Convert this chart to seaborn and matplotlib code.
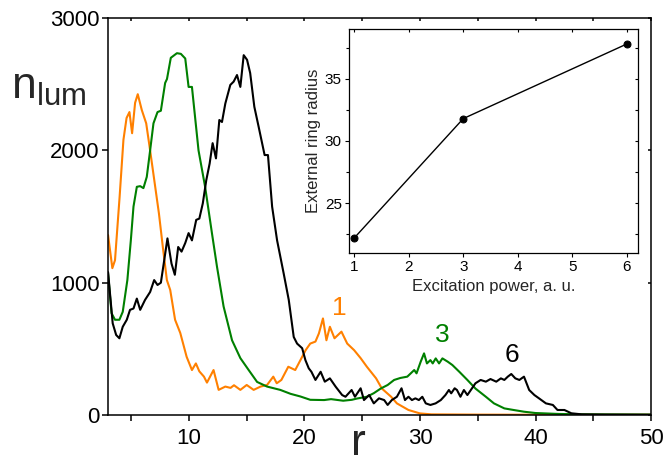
import numpy as np
import pandas as pd
import matplotlib
matplotlib.use("Agg")
import matplotlib.pyplot as plt
import seaborn as sns
from matplotlib.ticker import MultipleLocator

sns.set_style("ticks")
plt.rcParams['font.family'] = ['Liberation Sans', 'DejaVu Sans']
plt.rcParams['mathtext.default'] = 'regular'

# ---- data ----
r_orange = [3.0, 3.37, 3.6, 4.0, 4.33, 4.6, 4.85, 5.08, 5.34, 5.57, 5.92, 6.3, 6.64, 7.0, 7.4,
            7.74, 8.09, 8.38, 8.8, 9.25, 9.8, 10.26, 10.6, 10.9, 11.3, 11.56, 12.13, 12.57,
            13.15, 13.6, 13.9, 14.45, 15.0, 15.6, 16.2, 16.76, 17.3, 17.6, 18.0, 18.6, 19.2,
            19.65, 20.1, 20.5, 20.95, 21.25, 21.6, 21.9, 22.2, 22.6, 23.2, 23.7, 24.3, 24.86,
            25.4, 26.2, 26.7, 27.5, 28.0, 29.0, 30.0, 31.0, 35.0, 40.0, 45.0, 50.0]
n_orange = [1360, 1110, 1170, 1650, 2080, 2245, 2290, 2130, 2360, 2425, 2305, 2205, 2000, 1775, 1525,
            1270, 1020, 945, 720, 620, 440, 340, 390, 330, 290, 245, 340, 190,
            215, 205, 225, 190, 227, 190, 215, 227, 290, 240, 265, 365, 340,
            415, 490, 540, 555, 617, 730, 565, 667, 580, 630, 540, 490, 430,
            365, 277, 200, 138, 88, 38, 12, 5, 3, 2, 2, 2]

r_green = [3.0, 3.3, 3.6, 3.98, 4.27, 4.67, 4.97, 5.2, 5.49, 5.78, 6.06, 6.35, 6.64, 6.93, 7.28,
           7.57, 7.94, 8.1, 8.43, 8.96, 9.3, 9.68, 9.97, 10.26, 10.83, 11.4, 11.99, 12.43, 13.0,
           13.73, 14.45, 15.17, 15.9, 16.76, 17.9, 18.8, 19.65, 20.5, 21.7, 22.3, 23.35, 24.1,
           24.57, 25.4, 26.0, 26.6, 27.2, 27.76, 28.3, 28.9, 29.5, 29.7, 30.06, 30.35, 30.6,
           30.9, 31.1, 31.36, 31.65, 31.94, 32.4, 32.8, 33.4, 34.1, 34.8, 35.7, 36.4, 37.3,
           38.1, 39.0, 40.0, 42.0, 44.0, 50.0]
n_green = [1070, 770, 720, 720, 780, 1020, 1320, 1575, 1725, 1730, 1715, 1800, 2000, 2205, 2290,
           2300, 2510, 2540, 2700, 2735, 2730, 2695, 2480, 2480, 2000, 1725, 1375, 1120, 820,
           565, 430, 340, 250, 215, 190, 160, 140, 115, 113, 120, 108, 115,
           125, 138, 165, 200, 227, 265, 280, 290, 340, 315, 403, 466, 390,
           415, 390, 428, 390, 428, 403, 378, 327, 265, 200, 138, 88, 50,
           38, 25, 15, 8, 5, 3]

r_black = [3.0, 3.4, 3.7, 3.98, 4.27, 4.62, 4.9, 5.2, 5.49, 5.78, 6.2, 6.64, 6.99, 7.28, 7.57,
           7.86, 8.14, 8.49, 8.78, 9.07, 9.36, 9.68, 9.97, 10.26, 10.63, 10.9, 11.2, 11.5,
           11.79, 12.05, 12.34, 12.63, 12.86, 13.15, 13.58, 13.87, 14.16, 14.45, 14.74, 15.03,
           15.3, 15.66, 16.03, 16.55, 16.84, 17.2, 17.63, 18.2, 18.64, 19.07, 19.36, 19.8,
           20.08, 20.37, 20.6, 20.95, 21.4, 21.76, 22.2, 22.7, 23.26, 23.55, 24.08, 24.37,
           24.86, 25.15, 25.6, 26.0, 26.45, 26.9, 27.2, 27.56, 28.0, 28.4, 28.7, 29.0, 29.3,
           29.6, 29.9, 30.2, 30.5, 30.9, 31.35, 31.8, 32.2, 32.5, 32.7, 33.0, 33.2, 33.5, 33.8,
           34.1, 34.4, 34.8, 35.25, 35.7, 36.1, 36.6, 37.0, 37.3, 37.6, 37.9, 38.25, 38.6,
           39.0, 39.45, 39.9, 40.3, 40.9, 41.5, 41.9, 42.5, 43.1, 44.0, 46.0, 50.0]
n_black = [1080, 693, 605, 580, 667, 720, 795, 805, 880, 795, 870, 930, 1020, 983, 1000,
           1170, 1335, 1145, 1060, 1270, 1235, 1300, 1375, 1320, 1475, 1485, 1600, 1775,
           1900, 2055, 1940, 2230, 2215, 2355, 2495, 2520, 2570, 2480, 2720, 2685,
           2585, 2330, 2180, 1965, 1965, 1575, 1320, 1070, 870, 590, 540, 505,
           415, 353, 327, 265, 327, 252, 277, 214, 151, 138, 189, 138,
           202, 113, 151, 88, 126, 113, 76, 113, 138, 202, 113, 138, 113,
           126, 113, 138, 88, 76, 88, 113, 151, 189, 164, 202, 189, 138, 189,
           151, 189, 240, 265, 252, 272, 252, 277, 265, 290, 310, 277, 265,
           290, 189, 151, 126, 88, 76, 38, 38, 13, 5, 3, 2]

curve_labels = ["1", "3", "6"]
curve_colors = ["#FF8000", "#008000", "#000000"]
label_pos_r = [23.0, 31.9, 38.0]
label_pos_n = [810, 605, 455]

power = [1, 3, 6]
ring_radius = [22.2, 31.8, 37.8]

# ---- figure ----
df = pd.concat([
    pd.DataFrame({"r": r_orange, "n": n_orange, "curve": "1"}),
    pd.DataFrame({"r": r_green, "n": n_green, "curve": "3"}),
    pd.DataFrame({"r": r_black, "n": n_black, "curve": "6"}),
])

fig = plt.figure(figsize=(6.63, 4.65), dpi=100)
ax = fig.add_axes([0.163, 0.1075, 0.819, 0.8535])
sns.lineplot(data=df, x="r", y="n", hue="curve", palette=dict(zip(curve_labels, curve_colors)),
             estimator=None, sort=False, linewidth=1.5, legend=False, ax=ax)
ax.set_xlim(3, 50)
ax.set_ylim(0, 3000)
ax.set_xlabel("")
ax.set_ylabel("")
ax.xaxis.set_major_locator(MultipleLocator(10))
ax.xaxis.set_minor_locator(MultipleLocator(5))
ax.yaxis.set_major_locator(MultipleLocator(1000))
for s in ax.spines.values():
    s.set_linewidth(1.1)
    s.set_color("black")
ax.tick_params(axis="both", which="both", labelsize=16, colors="black", width=1.1)
ax.tick_params(axis="x", which="both", length=4.5, pad=5, direction="out")
ax.tick_params(axis="y", which="both", length=4, pad=2, direction="out")
ax.tick_params(top=True, right=True, which="both")
# inward short ticks on top and right
for t in ax.xaxis.get_major_ticks() + ax.xaxis.get_minor_ticks():
    t.tick2line.set_marker(matplotlib.markers.TICKDOWN)
    t.tick2line.set_markersize(2)
for t in ax.yaxis.get_major_ticks():
    t.tick2line.set_marker(matplotlib.markers.TICKLEFT)
    t.tick2line.set_markersize(2)

for lab, col, rx, ny in zip(curve_labels, curve_colors, label_pos_r, label_pos_n):
    ax.text(rx, ny, lab, color=col, fontsize=19, ha="center", va="center")

fig.text(0.54, 0.022, "r", fontsize=32, ha="center", va="baseline")
fig.text(0.016, 0.812, r"$n_{lum}$", fontsize=32, ha="left", va="center")

# inset
ins = fig.add_axes([0.526, 0.456, 0.436, 0.4816])
sns.lineplot(x=power, y=ring_radius, color="black", linewidth=1.0, marker="o",
             markersize=5, markeredgecolor="black", ax=ins)
ins.set_xlim(0.9, 6.2)
ins.set_ylim(21.0, 39.0)
ins.xaxis.set_major_locator(MultipleLocator(1))
ins.yaxis.set_major_locator(MultipleLocator(5))
ins.yaxis.set_minor_locator(MultipleLocator(2.5))
for s in ins.spines.values():
    s.set_linewidth(0.9)
    s.set_color("black")
ins.tick_params(axis="both", which="both", labelsize=11, colors="black", width=0.8)
ins.tick_params(which="major", length=3, pad=2)
ins.tick_params(which="minor", length=2.5)
ins.tick_params(top=True, right=True, which="both")
for t in ins.xaxis.get_major_ticks():
    t.tick2line.set_marker(matplotlib.markers.TICKDOWN)
    t.tick2line.set_markersize(2.5)
for t in ins.yaxis.get_major_ticks() + ins.yaxis.get_minor_ticks():
    t.tick2line.set_marker(matplotlib.markers.TICKLEFT)
    t.tick2line.set_markersize(2.5)
ins.set_xlabel("Excitation power, a. u.", fontsize=12, labelpad=4)
ins.set_ylabel("External ring radius", fontsize=12, labelpad=3)

fig.savefig("out.png", dpi=100)
